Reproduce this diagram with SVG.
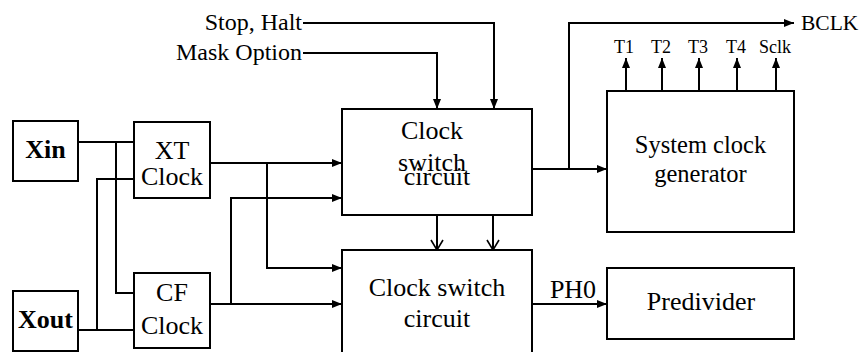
<svg xmlns="http://www.w3.org/2000/svg" width="861" height="352" viewBox="0 0 861 352">
<style>
.box{fill:#fff;stroke:#000;stroke-width:2}
text{fill:#000;text-anchor:middle;font-size:26px}
.b{font-weight:bold}
.w{stroke:#000;stroke-width:2;fill:none}
.a{marker-end:url(#arr)}
.o{marker-end:url(#open)}
</style>
<defs>
<marker id="arr" markerUnits="userSpaceOnUse" markerWidth="10" markerHeight="8" refX="10" refY="4" orient="auto" overflow="visible">
<path d="M0,0 L10,4 L0,8 z" fill="#000"/>
</marker>
<marker id="open" markerUnits="userSpaceOnUse" markerWidth="10" markerHeight="12" refX="10" refY="6" orient="auto" overflow="visible">
<path d="M0,0 L10,6 L0,12" fill="none" stroke="#000" stroke-width="1.6"/>
</marker>
</defs>
<rect width="861" height="352" fill="#fff"/>
<g id="connectors">
<path class="w a" d="M303 23 H494 V109"/>
<path class="w a" d="M303 53 H437 V109"/>
<path class="w" d="M78 142 H134"/>
<path class="w" d="M116 142 V293 H134"/>
<path class="w" d="M78 330 H134"/>
<path class="w" d="M97 330 V179 H134"/>
<path class="w a" d="M210 163 H342"/>
<path class="w a" d="M267 163 V268 H342"/>
<path class="w a" d="M210 304 H342"/>
<path class="w a" d="M231 304 V198 H342"/>
<path class="w a" d="M532 169 H607"/>
<path class="w a" d="M569 169 V23 H794"/>
<path class="w a" d="M626 91 V58"/>
<path class="w a" d="M662 91 V58"/>
<path class="w a" d="M699 91 V58"/>
<path class="w a" d="M737 91 V58"/>
<path class="w a" d="M776 91 V58"/>
<path class="w o" d="M437 215 V250"/>
<path class="w o" d="M493 215 V250"/>
<path class="w a" d="M532 304 H607"/>
</g>
<g font-family="'Liberation Serif', 'Times New Roman', 'DejaVu Serif', serif">
<g id="labels">
<text x="302" y="30" style="font-size:24px;text-anchor:end">Stop, Halt</text>
<text x="302" y="60" style="font-size:24px;text-anchor:end">Mask Option</text>
<text x="801" y="30" style="font-size:21.5px;text-anchor:start">BCLK</text>
<text x="624" y="53" style="font-size:18px">T1</text>
<text x="661" y="53" style="font-size:18px">T2</text>
<text x="698" y="53" style="font-size:18px">T3</text>
<text x="736" y="53" style="font-size:18px">T4</text>
<text x="775" y="53" style="font-size:18px">Sclk</text>
<text x="573" y="298">PH0</text>
</g>
<g id="xin"><rect class="box" x="13" y="121" width="65" height="60"/><text class="b" x="45.5" y="158">Xin</text></g>
<g id="xout"><rect class="box" x="13" y="291" width="65" height="60"/><text class="b" x="45.5" y="328">Xout</text></g>
<g id="xt"><rect class="box" x="134" y="122" width="76" height="76"/><text x="172" y="159">XT</text><text x="172" y="185">Clock</text></g>
<g id="cf"><rect class="box" x="134" y="273" width="76" height="75"/><text x="172" y="301">CF</text><text x="172" y="334">Clock</text></g>
<g id="switch1"><rect class="box" x="342" y="109" width="190" height="106"/><text x="432" y="139">Clock</text><text x="432" y="171">switch</text><text x="437" y="185">circuit</text></g>
<g id="switch2"><rect class="box" x="342" y="250" width="190" height="115"/><text x="437" y="296">Clock switch</text><text x="437" y="327">circuit</text></g>
<g id="sysclk"><rect class="box" x="607" y="91" width="187" height="141"/><text x="700.5" y="153" style="font-size:24.5px">System clock</text><text x="700.5" y="182" style="font-size:24.5px">generator</text></g>
<g id="predivider"><rect class="box" x="607" y="268" width="187" height="71"/><text x="701" y="310">Predivider</text></g>
</g>
</svg>
